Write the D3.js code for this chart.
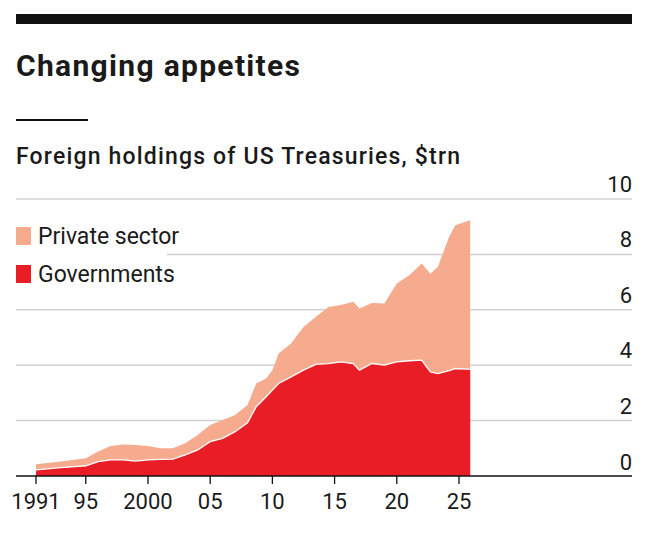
<!DOCTYPE html>
<html><head><meta charset="utf-8">
<script src="https://cdn.jsdelivr.net/npm/d3@7"></script>
<style>
body{margin:0;background:#fff;}
text{font-family:"Roboto",sans-serif;fill:#1a1a1a;}
</style></head>
<body><svg id="chart" width="650" height="542"></svg>
<script>
// year, total foreign holdings, governments ($trn)
var years = [1991,1993,1995,1996,1997,1998,1999,2000,2001,2002,2003,2004,2005,2006,2007,2008,2008.7,2009.5,2010,2010.5,2011.5,2012.5,2013.5,2014.5,2015.5,2016.5,2017,2018,2019,2020,2021,2022,2022.7,2023.3,2024.2,2024.7,2025.9];
var total = [0.42,0.52,0.64,0.88,1.08,1.14,1.12,1.08,1.0,1.0,1.18,1.48,1.84,2.02,2.2,2.56,3.34,3.52,3.82,4.42,4.78,5.38,5.75,6.1,6.17,6.29,6.05,6.25,6.23,6.95,7.25,7.67,7.3,7.55,8.63,9.05,9.23];
var govt = [0.22,0.3,0.37,0.52,0.58,0.58,0.54,0.58,0.6,0.61,0.76,0.94,1.24,1.36,1.6,1.92,2.5,2.86,3.1,3.34,3.58,3.82,4.03,4.06,4.12,4.06,3.82,4.06,4.0,4.12,4.16,4.18,3.76,3.7,3.8,3.88,3.85];
var xTicks = [1991,1995,2000,2005,2010,2015,2020,2025];
var xTickLabels = ["1991","95","2000","05","10","15","20","25"];
var yTicks = [0,2,4,6,8,10];

var svg = d3.select("#chart");
var data = years.map(function(y,i){ return {year:y, total:total[i], govt:govt[i]}; });

var x = d3.scaleLinear().domain([1991,2025]).range([36,459]);
var y = d3.scaleLinear().domain([0,10]).range([476,199]);

// header
svg.append("rect").attr("x",16).attr("y",14).attr("width",616).attr("height",10).attr("fill","#111");
svg.append("text").attr("x",16).attr("y",76)
  .style("font-weight","bold").style("font-size","30px").attr("textLength",284).text("Changing appetites");
svg.append("rect").attr("x",16).attr("y",119).attr("width",72).attr("height",2).attr("fill","#111");
svg.append("text").attr("x",16).attr("y",164).style("font-size","23px").style("font-weight","500")
  .attr("textLength",444).text("Foreign holdings of US Treasuries, $trn");

// gridlines
yTicks.forEach(function(t){
  if(t===0) return;
  svg.append("line").attr("x1", t===8 ? 167 : 16).attr("x2",632)
    .attr("y1",y(t)).attr("y2",y(t)).attr("stroke","#d0d0d0").attr("stroke-width",1.5);
  svg.append("text").attr("x",632).attr("y",y(t)-7).attr("text-anchor","end")
    .style("font-size","22px").text(t);
});
svg.append("text").attr("x",632).attr("y",y(0)-6).attr("text-anchor","end").style("font-size","22px").text(0);

var areaTotal = d3.area().x(function(d){return x(d.year);}).y0(y(0)).y1(function(d){return y(d.total);});
var areaGovt = d3.area().x(function(d){return x(d.year);}).y0(y(0)).y1(function(d){return y(d.govt);});
var lineGovt = d3.line().x(function(d){return x(d.year);}).y(function(d){return y(d.govt);});

svg.append("path").datum(data).attr("d",areaTotal).attr("fill","#f6ab8f");
svg.append("path").datum(data).attr("d",areaGovt).attr("fill","#e91d25");
svg.append("path").datum(data).attr("d",lineGovt).attr("fill","none").attr("stroke","#fff").attr("stroke-width",1.3);

// baseline + x axis
svg.append("line").attr("x1",16).attr("x2",632).attr("y1",y(0)).attr("y2",y(0)).attr("stroke","#111").attr("stroke-width",1.5);
xTicks.forEach(function(t,i){
  svg.append("line").attr("x1",x(t)).attr("x2",x(t)).attr("y1",y(0)).attr("y2",y(0)+8).attr("stroke","#111").attr("stroke-width",1.3);
  svg.append("text").attr("x",x(t)).attr("y",509).attr("text-anchor","middle").style("font-size","22px").text(xTickLabels[i]);
});

// legend
var legend = [{label:"Private sector", color:"#f6ab8f", y:227},{label:"Governments", color:"#e91d25", y:265}];
legend.forEach(function(l){
  svg.append("rect").attr("x",16).attr("y",l.y).attr("width",15).attr("height",18).attr("fill",l.color);
  svg.append("text").attr("x",38).attr("y",l.y+17).style("font-size","23px").text(l.label);
});
</script></body></html>
